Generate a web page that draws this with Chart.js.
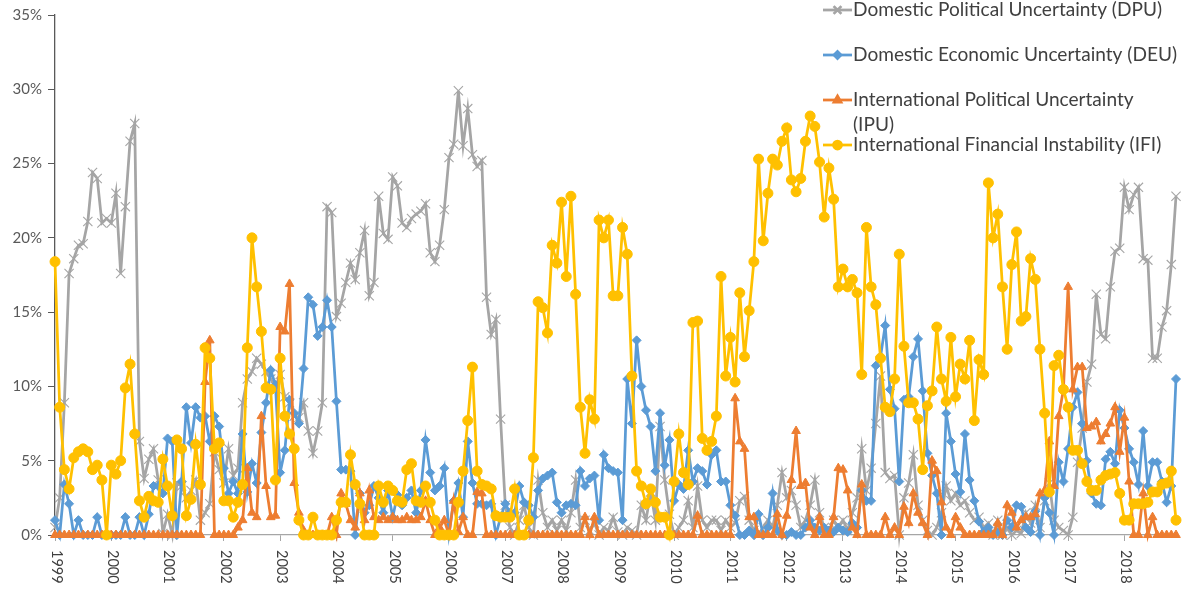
<!DOCTYPE html>
<html>
<head>
<meta charset="utf-8">
<script src="https://cdn.jsdelivr.net/npm/chart.js@4.4.1/dist/chart.umd.min.js"></script>
<style>
  html, body { margin: 0; padding: 0; background: #fff; }
  #wrap { width: 1186px; height: 598px; }
</style>
</head>
<body>
<div id="wrap"><canvas id="grafico" width="1186" height="598"></canvas></div>
<script>
/* ---------- Dados (mensal, jan/1999 - dez/2018, em %) ---------- */
const years = ['1999','2000','2001','2002','2003','2004','2005','2006','2007','2008',
               '2009','2010','2011','2012','2013','2014','2015','2016','2017','2018'];

const seriesNames = [
  'Domestic Political Uncertainty (DPU)',
  'Domestic Economic Uncertainty (DEU)',
  'International Political Uncertainty (IPU)',
  'International Financial Instability (IFI)'
];

const dpu = [
  0.5, 2.5, 8.9, 17.6, 18.6, 19.5, 19.6, 21.1, 24.4, 24.0, 21.0, 21.3,
  21.0, 23.0, 17.6, 22.1, 26.5, 27.7, 6.3, 3.8, 5.1, 5.8, 3.7, 0.1,
  1.4, 0, 3.5, 3.3, 2.5, 3.0, 3.7, 1.0, 1.5, 2.1, 5.6, 4.4,
  3.5, 5.8, 4.0, 4.5, 8.9, 10.5, 11.0, 11.9, 11.5, 11.0, 10.5, 10.0,
  10.8, 9.3, 8.9, 8.0, 7.9, 8.9, 7.0, 5.5, 7.0, 8.9, 22.1, 21.7,
  14.7, 15.6, 17.0, 18.3, 17.2, 19.0, 20.5, 16.1, 17.0, 22.8, 20.3, 19.9,
  24.1, 23.5, 21.0, 20.7, 21.3, 21.6, 21.8, 22.3, 19.0, 18.4, 19.5, 21.9,
  25.4, 26.3, 29.9, 26.2, 28.7, 25.6, 24.8, 25.2, 16.0, 13.5, 14.5, 7.8,
  2.0, 0.5, 0, 1.0, 2.0, 0.5, 0, 3.7, 1.5, 0.5, 1.0, 0.3,
  1.0, 0.3, 1.5, 3.7, 0.5, 1.0, 0.3, 0.8, 0, 0.5, 0.3, 1.2,
  0.2, 0, 0.5, 0.3, 0, 2.0, 1.0, 2.9, 1.0, 7.3, 3.7, 1.4,
  0, 0.5, 1.0, 2.3, 0.5, 3.3, 1.0, 0.5, 1.0, 1.0, 0.3, 1.0,
  0.5, 0.8, 2.3, 2.6, 1.0, 0.3, 0, 0.5, 1.0, 0.5, 2.0, 4.2,
  2.5, 3.0, 2.0, 0.5, 1.0, 2.0, 3.7, 1.5, 0.5, 0.3, 1.0, 0.5,
  1.0, 0.3, 1.5, 2.5, 5.8, 3.0, 4.5, 7.5, 10.7, 4.2, 3.8, 4.0,
  0, 2.5, 3.5, 5.4, 2.0, 1.0, 0.3, 0, 0.5, 1.5, 3.3, 2.3,
  2.8, 2.0, 2.3, 1.5, 1.0, 1.2, 0.5, 0.8, 0, 1.0, 0, 0.5,
  0, 0.3, 0.1, 1.5, 0.8, 2.0, 0.5, 2.3, 3.5, 1.0, 0.5, 0.3,
  0, 1.2, 4.9, 7.2, 10.3, 11.5, 16.2, 13.5, 13.2, 16.7, 19.1, 19.3,
  23.4, 21.9, 22.9, 23.4, 18.6, 18.5, 11.9, 11.9, 14.0, 15.1, 18.2, 22.8
];

const deu = [
  1.0, 0, 3.4, 2.1, 0, 1.0, 0, 0, 0, 1.2, 0, 0,
  0, 0, 0, 1.2, 0, 0, 1.2, 0, 1.4, 3.3, 3.3, 2.8,
  6.5, 6.3, 0, 3.6, 8.6, 6.2, 8.6, 7.9, 8.0, 6.3, 8.0, 7.3,
  4.5, 2.8, 3.6, 2.8, 6.8, 2.9, 4.8, 3.5, 6.9, 8.9, 11.1, 10.1,
  4.2, 5.7, 9.1, 8.2, 7.5, 11.2, 16.0, 15.5, 13.4, 14.0, 15.8, 14.0,
  9.0, 4.4, 4.4, 4.3, 0, 2.8, 1.5, 2.0, 3.3, 2.5, 1.5, 3.0,
  1.2, 2.7, 2.0, 2.5, 3.0, 1.5, 3.0, 6.4, 4.2, 3.0, 3.3, 4.5,
  0.1, 2.3, 3.5, 1.2, 6.3, 3.5, 2.1, 2.1, 2.0, 2.1, 0, 1.2,
  2.1, 1.5, 1.5, 3.3, 2.2, 2.0, 1.2, 3.0, 3.8, 4.0, 4.2, 2.2,
  1.5, 2.0, 2.1, 2.0, 4.3, 3.3, 3.8, 4.0, 1.0, 5.4, 4.5, 4.3,
  4.2, 1.0, 10.5, 7.5, 13.1, 10.0, 8.4, 7.3, 4.3, 8.2, 4.7, 6.4,
  2.3, 3.4, 3.1, 5.7, 3.6, 4.5, 4.3, 3.4, 5.4, 5.7, 3.6, 3.6,
  2.0, 1.3, 0, 0, 0.3, 0, 1.4, 0, 0.5, 2.8, 0.3, 0,
  0, 0.2, 0, 0, 0.5, 1.0, 0.5, 0.3, 0.5, 0.3, 0.2, 0.5,
  0.3, 0.2, 0.8, 0.5, 3.0, 2.3, 2.3, 11.4, 12.0, 14.1, 9.8, 8.5,
  3.6, 9.1, 9.3, 12.0, 13.2, 9.7, 5.5, 4.0, 2.8, 0, 8.2, 6.3,
  4.1, 2.9, 6.8, 3.7, 2.3, 0.9, 0.2, 0.5, 0, 0.2, 0, 1.0,
  0.5, 2.0, 1.9, 0.5, 0.2, 1.6, 0, 2.5, 1.5, 0, 4.9, 3.6,
  5.8, 8.6, 9.6, 7.5, 5.0, 2.8, 2.1, 2.0, 5.1, 5.6, 4.8, 8.4,
  7.2, 5.8, 4.9, 3.4, 7.0, 3.3, 4.9, 4.9, 3.6, 2.2, 3.3, 10.5
];

const ipu = [
  0, 0, 0, 0, 0, 0, 0, 0, 0, 0, 0, 0,
  0, 0, 0, 0, 0, 0, 0, 0, 0, 0, 0, 0,
  0, 0, 0, 0, 0, 0, 0, 0, 10.3, 13.1, 0, 0,
  0, 0, 0, 0.5, 1.0, 4.5, 1.5, 1.2, 8.0, 3.3, 1.2, 1.3,
  14.0, 13.7, 16.9, 3.5, 1.5, 0.3, 0, 0, 0, 0, 0, 1.2,
  0, 2.8, 2.1, 1.0, 0.5, 2.8, 1.0, 3.0, 1.2, 1.0, 1.2, 1.0,
  1.2, 1.0, 1.0, 1.2, 1.0, 1.0, 1.2, 2.3, 1.0, 0, 0.5, 1.0,
  0, 2.3, 0.2, 1.2, 0, 0, 2.9, 2.8, 0, 0, 0, 0,
  0, 0, 0, 0, 0, 0, 0, 0, 0, 0, 0, 0,
  0, 0, 0, 0, 0, 1.2, 0, 1.2, 0, 0, 0, 0,
  0, 0, 0, 0, 0, 0, 0, 0, 0, 0, 0, 0,
  0, 0, 0, 0, 0, 1.3, 0, 0, 0, 0, 0, 0,
  0, 9.2, 6.3, 5.8, 1.2, 1.2, 0, 0, 0, 0, 1.4, 0,
  1.3, 3.7, 7.0, 3.3, 3.5, 0.5, 0, 1.2, 0, 0, 1.2, 4.5,
  4.4, 3.0, 0.5, 0, 3.4, 0, 0, 0, 0, 1.2, 0, 0.5,
  0, 1.9, 0.8, 2.8, 1.5, 0.8, 0, 5.0, 4.3, 2.2, 0.5, 0,
  1.2, 0.5, 0, 0, 0, 0, 0, 0, 0, 0.8, 0, 2.0,
  1.5, 0.5, 1.0, 1.2, 1.2, 1.4, 2.8, 3.0, 6.3, 3.3, 8.0, 9.8,
  16.7, 9.8, 11.3, 11.3, 7.2, 7.3, 7.6, 6.3, 6.8, 7.5, 8.6, 5.6,
  7.9, 3.6, 0, 0, 2.8, 0, 1.2, 0, 0, 0, 0, 0
];

const ifi = [
  18.4, 8.6, 4.4, 3.1, 5.2, 5.6, 5.8, 5.6, 4.4, 4.7, 3.7, 0,
  4.7, 4.1, 5.0, 9.9, 11.5, 6.8, 2.3, 1.2, 2.6, 2.3, 2.2, 5.1,
  3.3, 1.3, 6.4, 5.8, 1.3, 2.4, 6.1, 3.4, 12.6, 11.9, 5.8, 6.2,
  2.3, 2.3, 1.2, 2.2, 3.4, 12.6, 20.0, 16.7, 13.7, 9.9, 9.8, 3.7,
  11.9, 8.0, 6.8, 5.8, 1.0, 0, 0, 1.2, 0, 0, 0, 0,
  1.0, 2.2, 2.2, 5.4, 3.4, 2.1, 0, 0, 0, 3.3, 2.2, 3.3,
  3.0, 2.3, 2.2, 4.4, 4.8, 2.3, 2.2, 3.3, 2.2, 1.0, 0, 0,
  0, 0, 2.2, 4.3, 7.7, 11.3, 4.3, 3.4, 3.3, 3.1, 1.3, 1.2,
  1.2, 1.2, 3.1, 0, 0, 1.0, 5.2, 15.7, 15.3, 13.6, 19.5, 18.3,
  22.4, 17.4, 22.8, 16.2, 8.6, 5.5, 9.1, 7.8, 21.2, 20.0, 21.2, 16.1,
  16.1, 20.7, 18.9, 10.7, 4.3, 3.3, 2.1, 3.1, 2.2, 1.2, 1.2, 0,
  3.6, 6.8, 4.2, 3.4, 14.3, 14.4, 6.5, 5.7, 6.3, 8.0, 17.4, 10.7,
  13.3, 10.3, 16.3, 12.0, 15.1, 18.4, 25.3, 19.8, 23.0, 25.3, 24.9, 26.5,
  27.4, 23.9, 23.1, 24.0, 26.5, 28.2, 27.5, 25.1, 21.4, 24.7, 22.6, 16.7,
  17.9, 16.7, 17.2, 16.3, 10.8, 20.7, 16.7, 15.5, 11.9, 8.6, 8.3, 10.5,
  18.9, 12.7, 8.9, 8.9, 7.8, 4.4, 8.7, 9.7, 14.0, 10.5, 9.0, 13.3,
  9.3, 11.5, 10.5, 13.1, 7.7, 11.8, 10.8, 23.7, 20.0, 21.6, 16.7, 12.5,
  18.2, 20.4, 14.4, 14.7, 18.6, 17.2, 12.5, 8.2, 2.9, 11.4, 12.1, 9.8,
  8.6, 5.7, 5.7, 4.8, 3.6, 3.0, 3.0, 3.7, 4.0, 4.1, 4.2, 2.8,
  1.0, 1.0, 2.1, 2.1, 2.1, 2.2, 2.9, 2.9, 3.4, 3.5, 4.3, 1.0
];

/* ---------- Estilo ---------- */
const cores = ['#a5a5a5', '#5b9bd5', '#ed7d31', '#ffc000'];
const marcadores = [
  { pointStyle: 'crossRot', radius: 6.5, borderWidth: 1.1 },
  { pointStyle: 'rectRot', radius: 4.5, borderWidth: 1 },
  { pointStyle: 'triangle', radius: 5, borderWidth: 1 },
  { pointStyle: 'circle', radius: 5, borderWidth: 1 }
];
const fonte = 'Lato, "Open Sans", sans-serif';
const corTexto = '#404040';

// rótulos mensais da categoria (jan/1999 ...)
const meses = [];
years.forEach(a => { for (let m = 1; m <= 12; m++) meses.push(a + '-' + m); });

function serie(i, dados) {
  const mk = marcadores[i];
  return {
    label: seriesNames[i],
    data: dados,
    borderColor: cores[i],
    backgroundColor: cores[i],
    borderWidth: 2.75,
    pointStyle: mk.pointStyle,
    pointRadius: mk.radius,
    pointBorderWidth: mk.borderWidth,
    pointBorderColor: cores[i],
    pointBackgroundColor: cores[i],
    tension: 0,
    clip: false,
    order: 4 - i
  };
}

/* ---------- Plugin: rótulos dos anos e legenda ---------- */
const extras = {
  id: 'extras',
  afterDraw(chart) {
    const ctx = chart.ctx;
    const xs = chart.scales.x;

    // anos girados 90° (leitura de cima para baixo)
    ctx.save();
    ctx.fillStyle = corTexto;
    ctx.font = '14.5px ' + fonte;
    ctx.textAlign = 'left';
    ctx.textBaseline = 'middle';
    xs.ticks.forEach((t, idx) => {
      if (t.label === null || t.label === undefined || t.label === '') return;
      const px = xs.getPixelForTick(idx);
      ctx.save();
      ctx.translate(px + 1.5, chart.chartArea.bottom + 15);
      ctx.rotate(Math.PI / 2);
      ctx.fillText(t.label, 0, 0);
      ctx.restore();
    });
    ctx.restore();

    // legenda
    ctx.save();
    let fs = 17;
    ctx.font = fs + 'px ' + fonte;
    fs = fs * 309 / ctx.measureText(seriesNames[0]).width;
    ctx.font = fs.toFixed(2) + 'px ' + fonte;
    // a legenda original quebra tudo o que for mais largo que o item DEU
    const larguraMax = ctx.measureText(seriesNames[1]).width + 1;
    const ys = [10, 55, 100, 145];
    const x0 = 823, x1 = 852, xt = 853;
    chart.data.datasets.forEach((ds, i) => {
      const y = ys[i];
      ctx.strokeStyle = cores[i];
      ctx.lineWidth = 2.75;
      ctx.beginPath(); ctx.moveTo(x0, y); ctx.lineTo(x1, y); ctx.stroke();
      ctx.fillStyle = cores[i];
      Chart.helpers.drawPoint(ctx, {
        pointStyle: marcadores[i].pointStyle,
        radius: marcadores[i].radius - 1,
        borderWidth: marcadores[i].borderWidth,
        rotation: 0
      }, (x0 + x1) / 2, y);
      ctx.fillStyle = corTexto;
      ctx.textAlign = 'left';
      ctx.textBaseline = 'middle';
      const palavras = ds.label.split(' ');
      let linha = '', linhas = [];
      palavras.forEach(p => {
        const teste = linha ? linha + ' ' + p : p;
        if (ctx.measureText(teste).width > larguraMax && linha) { linhas.push(linha); linha = p; }
        else linha = teste;
      });
      linhas.push(linha);
      linhas.forEach((l, k) => ctx.fillText(l, xt, y + k * 25));
    });
    ctx.restore();
  }
};

/* ---------- Gráfico ---------- */
const ctx = document.getElementById('grafico').getContext('2d');
const grafico = new Chart(ctx, {
  type: 'line',
  data: {
    labels: meses,
    datasets: [serie(0, dpu), serie(1, deu), serie(2, ipu), serie(3, ifi)]
  },
  options: {
    responsive: false,
    animation: false,
    layout: { padding: { top: 13, right: 10, left: 0, bottom: 0 } },
    plugins: { legend: { display: false }, tooltip: { enabled: false } },
    scales: {
      x: {
        offset: false,
        grid: { display: true, drawOnChartArea: false, drawTicks: true, tickLength: 6, color: '#a6a6a6' },
        border: { color: '#a6a6a6', width: 1.3 },
        ticks: {
          autoSkip: false, maxRotation: 90, minRotation: 90,
          color: 'rgba(0,0,0,0)',
          font: { family: fonte, size: 14 },
          callback: (v, i) => (i % 12 === 0 ? years[i / 12] : null)
        },
        afterFit: s => { s.height = 63; }
      },
      y: {
        min: 0, max: 35,
        grid: { display: true, drawOnChartArea: false, drawTicks: true, tickLength: 7, color: '#595959' },
        border: { color: '#595959', width: 1.3 },
        ticks: {
          stepSize: 5, padding: 6, color: '#595959',
          font: { family: fonte, size: 15 },
          callback: v => v + '%'
        },
        afterFit: s => { s.width = 55; }
      }
    }
  },
  plugins: [extras]
});
</script>
</body>
</html>
